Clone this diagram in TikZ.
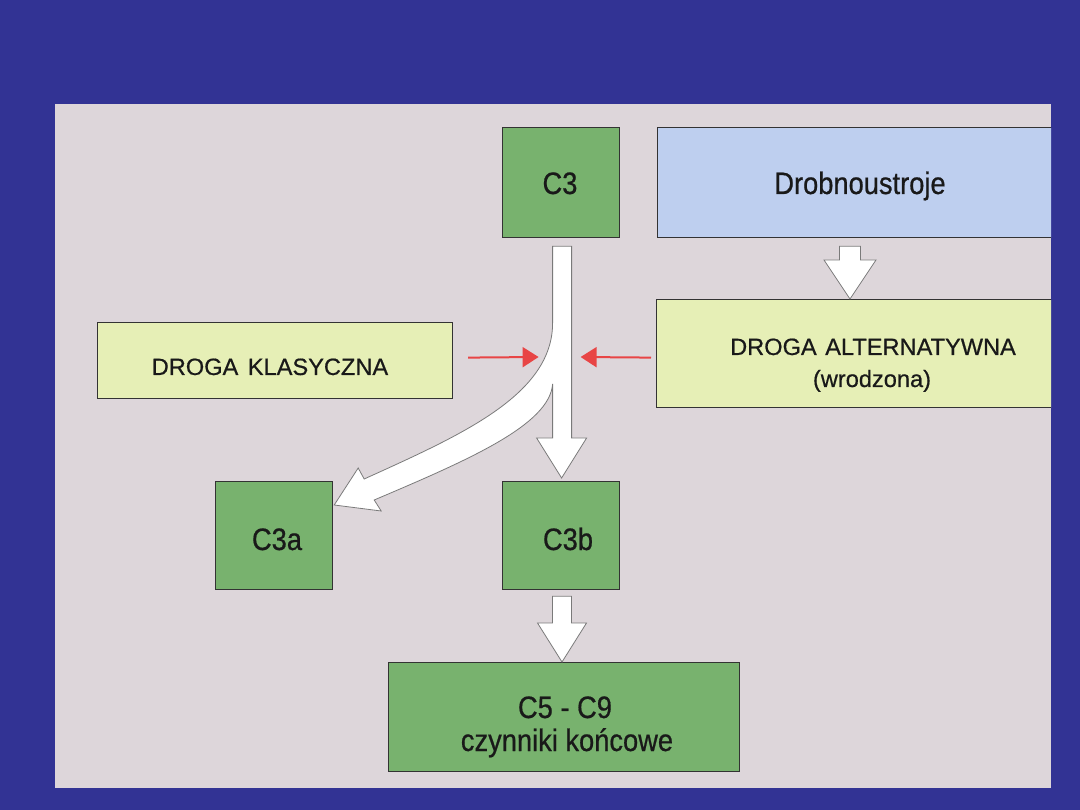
\documentclass[tikz,border=0pt]{standalone}
\usepackage{fontspec}
\setmainfont{Liberation Sans}
\newfontfamily\narrowf[FakeStretch=0.88,FakeBold=0.6]{Liberation Sans}
\newfontfamily\capsf[FakeBold=0.6]{Liberation Sans}
\usetikzlibrary{calc,arrows.meta}
\definecolor{bgblue}{HTML}{323394}
\definecolor{panel}{HTML}{DDD6DA}
\definecolor{boxgreen}{RGB}{120,178,110}
\definecolor{boxyellow}{HTML}{E6EFB6}
\definecolor{boxblue}{HTML}{BECFEF}
\definecolor{boxline}{HTML}{333333}
\definecolor{arrowline}{HTML}{7A7A7A}
\definecolor{arrowred}{HTML}{E84545}
\tikzset{
  box/.style={draw=boxline, line width=1.2pt, inner sep=0pt, anchor=north west},
  greenbox/.style={box, fill=boxgreen},
  yellowbox/.style={box, fill=boxyellow},
  bluebox/.style={box, fill=boxblue},
  biglbl/.style={anchor=base, inner sep=0pt, text=black!90, font=\narrowf\fontsize{31}{36}\selectfont},
  capslbl/.style={anchor=base, inner sep=0pt, text=black!90, font=\capsf\fontsize{23.6}{28}\selectfont},
  whitearrow/.style={fill=white, draw=arrowline, line width=0.8pt, line join=miter},
  redarrow/.style={draw=arrowred, line width=2pt, -{Triangle[length=16pt,width=20pt]}},
}
% vertical block arrow: #1 start, #2 tip, #3 shaft half width, #4 head half width, #5 head length
\newcommand{\vblock}[5]{%
  \draw[whitearrow] let \p1=(#1), \p2=(#2) in
    (\x2-#3,\y1) -- (\x2+#3,\y1) -- (\x2+#3,\y2+#5) -- (\x2+#4,\y2+#5) -- (\p2)
    -- (\x2-#4,\y2+#5) -- (\x2-#3,\y2+#5) -- cycle;}
\begin{document}
\begin{tikzpicture}[x=1pt,y=-1pt]
\useasboundingbox (0,0) rectangle (1080,810);
\fill[bgblue] (0,0) rectangle (1080,810);
\fill[panel] (55,104) rectangle (1051,788);
\begin{scope}
\clip (55,104) rectangle (1051,788);
% boxes
\node[greenbox, minimum width=117pt, minimum height=110pt] (c3) at (502,127) {};
\node[bluebox, minimum width=420pt, minimum height=110pt] (drob) at (657,127) {};
\node[yellowbox, minimum width=355pt, minimum height=76pt] (klas) at (97,322) {};
\node[yellowbox, minimum width=420pt, minimum height=108pt] (alt) at (656,299) {};
\node[greenbox, minimum width=117pt, minimum height=108pt] (c3a) at (215,481) {};
\node[greenbox, minimum width=117pt, minimum height=108pt] (c3b) at (502,481) {};
\node[greenbox, minimum width=351pt, minimum height=109pt] (c5) at (388,662) {};
% labels
\node[biglbl] (c3t) at (560,194) {C3};
\node[biglbl] (drobt) at (860,194) {Drobnoustroje};
\node[capslbl] (klast) at (270,375) {DROGA\hspace{3pt} KLASYCZNA};
\node[capslbl] (altt1) at (873,355) {DROGA\hspace{2pt} ALTERNATYWNA};
\node[capslbl] (altt2) at (872,387) {(wrodzona)};
\node[biglbl] (c3at) at (277,550) {C3a};
\node[biglbl] (c3bt) at (568,550) {C3b};
\node[biglbl] (c5t1) at (565,718) {C5 - C9};
\node[biglbl] (c5t2) at (567,751) {czynniki końcowe};
% straight block arrows
\coordinate (d1) at ($(drob.south west)+(193,8)$);
\coordinate (d2) at ($(alt.north west)+(194,0)$);
\vblock{d1}{d2}{10.5}{26}{39}
\coordinate (b1) at ($(c3b.south)+(0,6)$);
\coordinate (b2) at ($(c5.north west)+(174,0)$);
\vblock{b1}{b2}{9.5}{24.5}{39}
% main split arrow C3 -> C3b and C3a
\coordinate (mtop) at ($(c3.south)+(0.5,8)$);
\coordinate (mtip) at ($(c3b.north)+(0.5,-3)$);
\coordinate (atip) at ($(c3a.north east)+(1,24)$);
\draw[whitearrow]
  ($(mtop)+(-9,0)$) -- ($(mtop)+(10,0)$) -- ($(mtip)+(10,-40)$) -- ($(mtip)+(25,-40)$)
  -- (mtip) -- ($(mtip)+(-25,-40)$) -- ($(mtip)+(-9,-40)$) -- ($(mtip)+(-9,-94)$)
  .. controls ($(mtip)+(-12,-53)$) and ($(atip)+(134,-45)$) .. ($(atip)+(40,-5)$)
  -- ($(atip)+(47,6)$) -- (atip) -- ($(atip)+(24,-37)$) -- ($(atip)+(30,-26)$)
  .. controls ($(atip)+(127,-70)$) and ($(mtip)+(-9,-83)$) .. ($(mtip)+(-9,-155)$)
  -- cycle;
% red arrows
\coordinate (r1) at ($(klas.east)+(15,-3)$);
\coordinate (r2) at ($(mtip)+(-23,-121)$);
\coordinate (r3) at ($(alt.west)+(-5,4)$);
\coordinate (r4) at ($(mtip)+(19,-121)$);
\draw[redarrow] (r1) -- (r2);
\draw[redarrow] (r3) -- (r4);
\end{scope}
\end{tikzpicture}
\end{document}
